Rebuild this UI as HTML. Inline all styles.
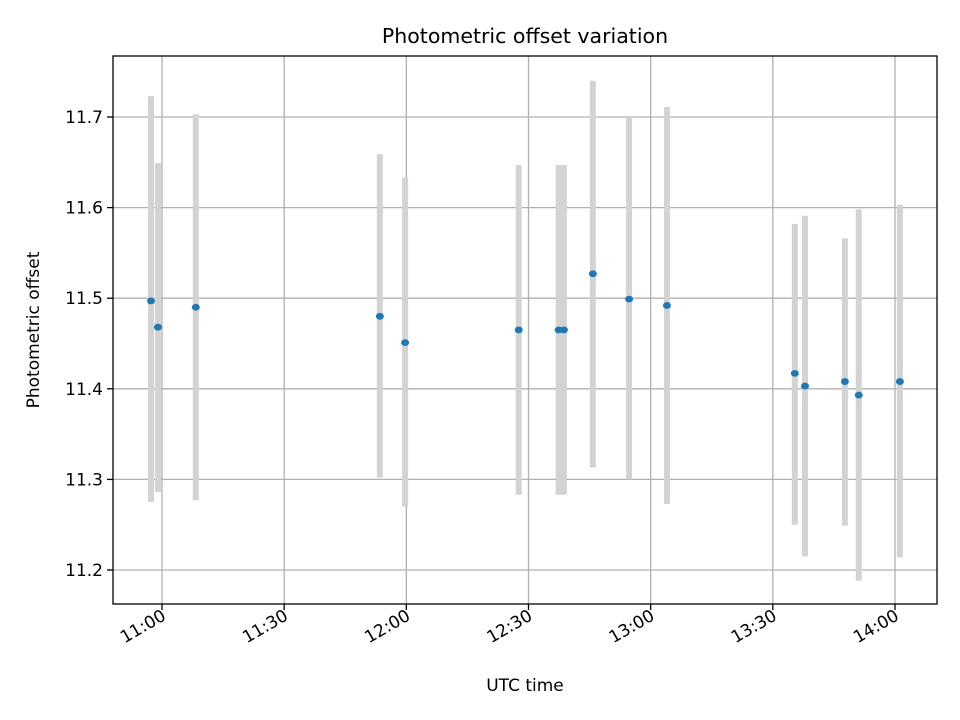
<!DOCTYPE html>
<html><head><meta charset="utf-8">
<style>
body{margin:0;background:#fff;}
svg{display:block;font-family:"DejaVu Sans","Liberation Sans",sans-serif;}
</style></head>
<body>
<svg id="chart" width="960" height="720">
<rect width="960" height="720" fill="#fff"/>
<g id="grid"></g>
<g id="bars"></g>
<g id="pts"></g>
<rect x="113" y="56" width="824" height="548" fill="none" stroke="#000" stroke-width="1.3"/>
<g id="ticks"></g>
<text x="525" y="43" font-size="20.5" text-anchor="middle">Photometric offset variation</text>
<text x="525" y="691" font-size="17" text-anchor="middle">UTC time</text>
<text x="39" y="330" font-size="17" text-anchor="middle" transform="rotate(-90 39 330)">Photometric offset</text>
</svg>
<script>
// minutes after 11:00 UTC
const times = [-2.7, -1.0, 8.3, 53.5, 59.7, 87.6, 97.4, 98.7, 105.8, 114.7, 124.0, 155.4, 157.9, 167.7, 171.1, 181.2];
const values = [11.497, 11.468, 11.490, 11.480, 11.451, 11.465, 11.465, 11.465, 11.527, 11.499, 11.492, 11.417, 11.403, 11.408, 11.393, 11.408];
const lowerBounds = [11.275, 11.286, 11.277, 11.302, 11.270, 11.283, 11.283, 11.283, 11.313, 11.300, 11.273, 11.250, 11.215, 11.249, 11.188, 11.214];
const upperBounds = [11.723, 11.649, 11.703, 11.659, 11.633, 11.647, 11.647, 11.647, 11.740, 11.700, 11.711, 11.582, 11.591, 11.566, 11.598, 11.603];
const yTicks = [11.2, 11.3, 11.4, 11.5, 11.6, 11.7];
const xTicks = [0, 30, 60, 90, 120, 150, 180];
const xTickLabels = ["11:00", "11:30", "12:00", "12:30", "13:00", "13:30", "14:00"];

const NS = "http://www.w3.org/2000/svg";
const L = 113, R = 937, T = 56, B = 604;
const xS = m => 162 + m * (895 - 162) / 180;
const yS = v => 570 + (v - 11.2) * (117 - 570) / 0.5;
function mk(tag, attrs, parent) {
  const e = document.createElementNS(NS, tag);
  for (const k in attrs) e.setAttribute(k, attrs[k]);
  parent.appendChild(e);
  return e;
}
const grid = document.getElementById('grid'), ticks = document.getElementById('ticks');
const bars = document.getElementById('bars'), pts = document.getElementById('pts');
yTicks.forEach(v => {
  const y = yS(v);
  const g = mk('line', {x1: L, x2: R, y1: y, y2: y, stroke: '#b0b0b0', 'stroke-width': 1.3}, grid);
  
  
  const t = mk('line', {x1: L - 6, x2: L, y1: y, y2: y, stroke: '#000', 'stroke-width': 1.3}, ticks);
  
  
  const tx = mk('text', {x: L - 10, y: y + 6, 'font-size': 17, 'text-anchor': 'end'}, ticks);
  tx.textContent = v.toFixed(1);
  
  
});
xTicks.forEach((m, i) => {
  const x = xS(m);
  const g = mk('line', {x1: x, x2: x, y1: T, y2: B, stroke: '#b0b0b0', 'stroke-width': 1.3}, grid);
  
  
  const t = mk('line', {x1: x, x2: x, y1: B, y2: B + 6, stroke: '#000', 'stroke-width': 1.3}, ticks);
  
  
  const tx = mk('text', {x: x + 5, y: B + 15, 'font-size': 17, 'text-anchor': 'end', transform: `rotate(-30 ${x + 5} ${B + 15})`}, ticks);
  tx.textContent = xTickLabels[i];
  
  
});
times.forEach((m, i) => {
  const x = xS(m);
  const b = mk('line', {x1: x, x2: x, y1: yS(upperBounds[i]), y2: yS(lowerBounds[i]), stroke: '#d3d3d3', 'stroke-width': 6}, bars);
  
  
});
times.forEach((m, i) => {
  const p = mk('ellipse', {cx: xS(m), cy: yS(values[i]), rx: 4, ry: 3.4, fill: '#1f77b4'}, pts);
  
  
});
</script>
</body></html>
